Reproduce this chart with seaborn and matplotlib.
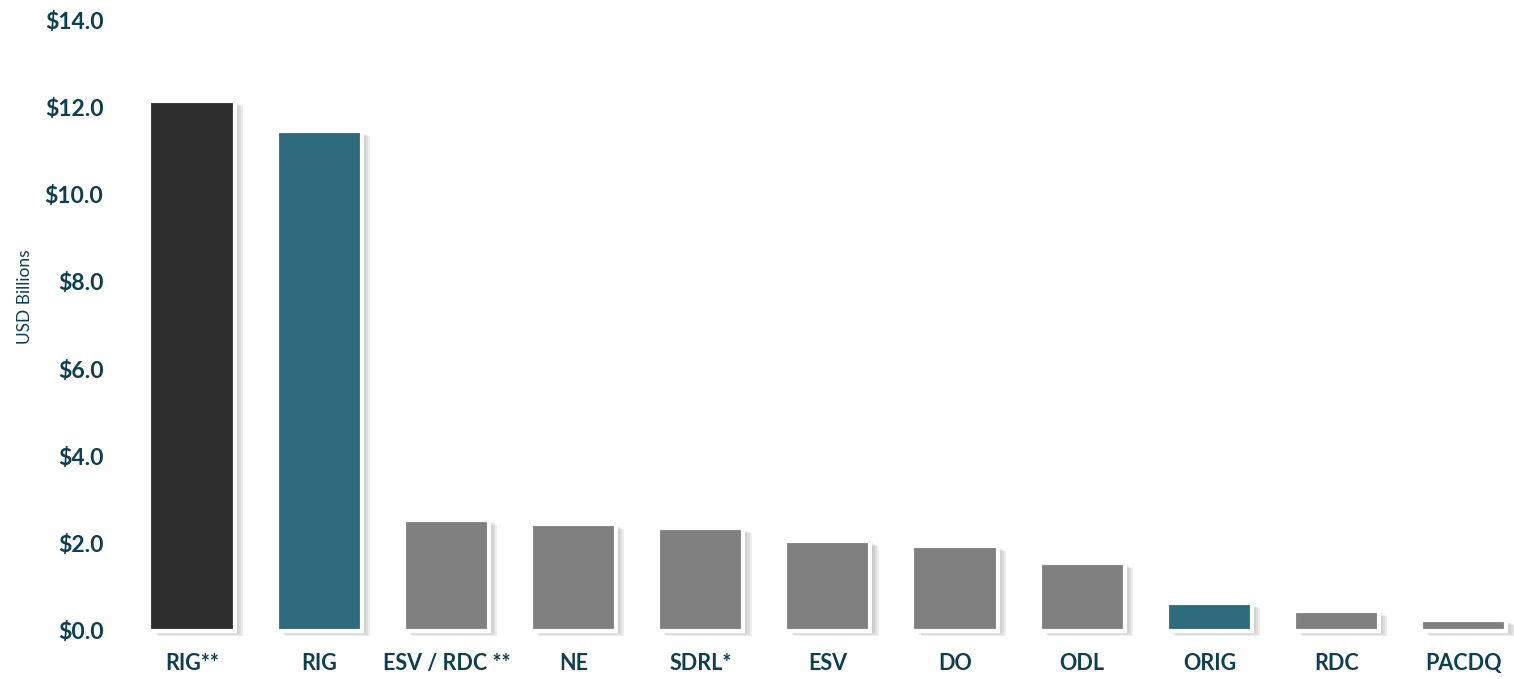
import pandas as pd
import seaborn as sns
import matplotlib.pyplot as plt
import matplotlib.patheffects as pe
from matplotlib.ticker import FuncFormatter

# Daten
tickers = ["RIG**", "RIG", "ESV / RDC **", "NE", "SDRL*", "ESV", "DO", "ODL", "ORIG", "RDC", "PACDQ"]
values = [12.15, 11.45, 2.55, 2.45, 2.36, 2.06, 1.95, 1.56, 0.64, 0.46, 0.25]
bar_colors = ["#2e2e2e", "#2d6b7d", "#808080", "#808080", "#808080", "#808080",
              "#808080", "#808080", "#2d6b7d", "#808080", "#808080"]
y_ticks = [0, 2, 4, 6, 8, 10, 12, 14]

text_color = "#0d3f50"

df = pd.DataFrame({"Ticker": tickers, "Wert": values})

sns.set_style("white")
plt.rcParams["font.family"] = ["Lato", "DejaVu Sans"]

fig = plt.figure(figsize=(15.14, 6.79), dpi=100)
ax = fig.add_axes([0.0848, 0.0707, 0.924, 0.8998])

sns.barplot(data=df, x="Ticker", y="Wert", hue="Ticker", palette=bar_colors,
            saturation=1, legend=False, width=0.67, edgecolor="white",
            linewidth=3, ax=ax)

# weicher Schatten rechts/unten
shadow = [pe.SimplePatchShadow(offset=(d, -d * 0.6), shadow_rgbFace="#707070", alpha=0.12)
          for d in (6, 4.5, 3, 1.5)]
for patch in ax.patches:
    patch.set_path_effects(shadow + [pe.Normal()])
    patch.set_clip_on(False)

ax.set_ylim(0, 14)
ax.set_xlim(-0.5, 10.5)
ax.set_yticks(y_ticks)
ax.yaxis.set_major_formatter(FuncFormatter(lambda v, _: f"${v:.1f}"))
ax.tick_params(axis="x", length=0, labelsize=15.5, labelcolor=text_color, pad=16)
ax.tick_params(axis="y", length=0, labelsize=16.5, labelcolor=text_color, pad=18)
for lbl in ax.get_xticklabels() + ax.get_yticklabels():
    lbl.set_fontweight("bold")

ax.set_xlabel("")
ax.set_ylabel("")
fig.text(0.0165, 0.5626, "USD Billions", rotation=90, ha="center", va="center",
         fontsize=12.5, color=text_color)

sns.despine(left=True, bottom=True)
ax.grid(False)

fig.savefig("out.png", dpi=100)
